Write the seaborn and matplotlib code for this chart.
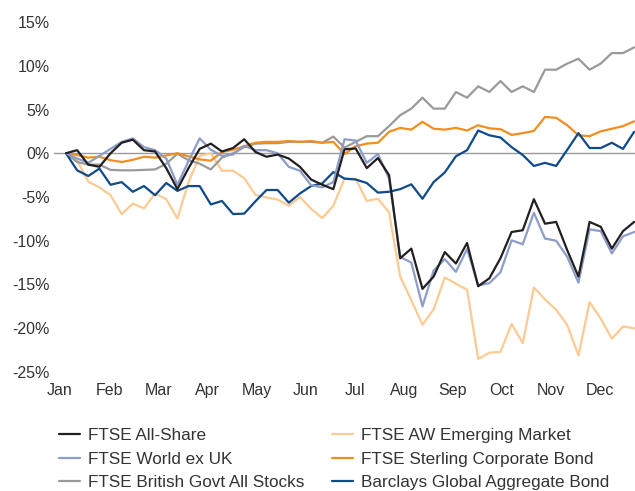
import matplotlib
matplotlib.use('Agg')
import matplotlib.pyplot as plt
import numpy as np
import pandas as pd
import seaborn as sns

# Weekly cumulative returns (%)
all_share = [0, 0.35, -1.3, -1.55, 0, 1.2, 1.55, 0.35, 0.2, -1.7,
             -4.1, -1.7, 0.5, 1.1, 0.2, 0.6, 1.6, 0.15, -0.4, -0.15,
             -0.6, -1.55, -3.0, -3.6, -4.1, 0.45, 0.55, -1.7, -0.55, -2.5,
             -12.0, -10.9, -15.5, -14.1, -11.3, -12.6, -10.25, -15.2, -14.3, -12.0,
             -9.0, -8.8, -5.25, -8.05, -7.85, -11.1, -14.1, -7.85, -8.4, -10.9,
             -8.9, -7.85]
world_ex_uk = [0, -0.6, -1.1, -0.3, 0.5, 1.3, 1.7, 0.7, 0.35, -0.6,
               -3.6, -0.9, 1.7, 0.4, -0.3, -0.15, 0.85, 0.35, 0.35, 0,
               -1.55, -2.0, -3.65, -3.9, -3.3, 1.6, 1.45, -1.1, -0.1, -2.9,
               -11.85, -12.5, -17.5, -13.4, -12.1, -13.55, -10.95, -15.1, -14.85, -13.6,
               -9.95, -10.4, -6.8, -9.75, -10.0, -11.85, -14.8, -8.7, -8.9, -11.45,
               -9.5, -9.0]
govt_all = [0, -1.0, -1.3, -1.3, -1.9, -1.95, -1.95, -1.9, -1.85, -1.2,
            -0.05, -0.8, -1.2, -1.85, -0.5, 0, 0.7, 1.1, 1.15, 1.15,
            1.3, 1.3, 1.3, 1.2, 1.9, 0.65, 1.3, 1.95, 1.95, 3.1,
            4.35, 5.1, 6.35, 5.1, 5.1, 7.0, 6.35, 7.65, 7.0, 8.25,
            7.0, 7.65, 7.0, 9.55, 9.55, 10.25, 10.8, 9.55, 10.25, 11.45,
            11.45, 12.1]
emerging = [0, -0.8, -3.25, -3.9, -4.8, -6.95, -5.75, -6.3, -4.6, -5.25,
            -7.45, -3.3, -0.3, 0.0, -2.0, -2.0, -2.85, -4.75, -5.05, -5.3,
            -6.0, -5.0, -6.35, -7.4, -6.0, -2.9, -2.9, -5.45, -5.2, -6.75,
            -14.1, -16.8, -19.6, -17.85, -14.2, -14.9, -15.6, -23.5, -22.8, -22.7,
            -19.5, -21.7, -15.35, -16.7, -17.9, -19.65, -23.1, -17.0, -18.9, -21.2,
            -19.8, -20.0]
sterling_corp = [0, -0.2, -0.5, -0.4, -0.8, -1.0, -0.75, -0.4, -0.5, -0.25,
                 0, -0.35, -0.7, -0.85, 0.15, 0.4, 0.8, 1.2, 1.3, 1.3,
                 1.4, 1.3, 1.4, 1.2, 1.3, -0.1, 0.8, 1.1, 1.2, 2.45,
                 2.9, 2.7, 3.6, 2.8, 2.7, 2.9, 2.6, 3.2, 2.85, 2.75,
                 2.1, 2.3, 2.55, 4.15, 4.05, 3.2, 2.05, 1.95, 2.5, 2.8,
                 3.1, 3.65]
global_agg = [0, -1.95, -2.6, -1.75, -3.6, -3.3, -4.4, -3.75, -4.8, -3.4,
              -4.3, -3.75, -3.75, -5.85, -5.45, -6.95, -6.9, -5.5, -4.2, -4.2,
              -5.65, -4.6, -3.75, -3.45, -2.15, -2.9, -3.0, -3.4, -4.5, -4.4,
              -4.1, -3.55, -5.2, -3.3, -2.2, -0.35, 0.35, 2.6, 2.05, 1.8,
              0.7, -0.2, -1.45, -1.1, -1.45, 0.4, 2.3, 0.6, 0.6, 1.2,
              0.5, 2.45]

names = ['FTSE All-Share', 'FTSE World ex UK', 'FTSE British Govt All Stocks',
         'FTSE AW Emerging Market', 'FTSE Sterling Corporate Bond',
         'Barclays Global Aggregate Bond']
series = [all_share, world_ex_uk, govt_all, emerging, sterling_corp, global_agg]
colors = ['#231f20', '#8c9dca', '#9a9a9a', '#fdca92', '#f28e1e', '#0f4a8a']
months = ['Jan', 'Feb', 'Mar', 'Apr', 'May', 'Jun',
          'Jul', 'Aug', 'Sep', 'Oct', 'Nov', 'Dec']

weeks = np.arange(len(all_share))
df = pd.concat([pd.DataFrame({'week': weeks, 'value': s, 'index': n})
                for n, s in zip(names, series)])

sns.set_style('white')
plt.rcParams['font.family'] = ['Liberation Sans', 'DejaVu Sans']
plt.rcParams['text.color'] = '#333333'

fig = plt.figure(figsize=(6.35, 4.91), dpi=100)
ax = fig.add_axes([59.3 / 635, 1 - 372 / 491, 575.4 / 635, 350 / 491])

ax.axhline(0, xmin=-0.01, xmax=1, color='#9a9a9a', lw=1, clip_on=False, zorder=1)

# draw black last so it sits on top
draw_order = [3, 2, 4, 5, 1, 0]
for i in draw_order:
    sub = df[df['index'] == names[i]]
    sns.lineplot(data=sub, x='week', y='value', color=colors[i], lw=1.6,
                 ax=ax, label=names[i], zorder=2 + (i == 0))

ax.set_xlim(-0.6, 51.05)
ax.set_ylim(-25, 15)
ax.set_yticks(np.arange(-25, 16, 5))
ax.set_yticklabels([f'{v}%' for v in range(-25, 16, 5)])
ax.set_xticks(-0.54 + 4.408 * np.arange(12))
ax.set_xticklabels(months)
ax.tick_params(axis='both', length=0, labelsize=11.5, colors='#333333')
ax.tick_params(axis='y', pad=6.7)
ax.tick_params(axis='x', pad=8)
ax.set_xlabel('')
ax.set_ylabel('')
sns.despine(ax=ax, left=True, bottom=True)

handles, labels = ax.get_legend_handles_labels()
lookup = dict(zip(labels, handles))
ax.get_legend().remove()
fig.legend([lookup[n] for n in names], names, ncol=2, loc='upper left',
           bbox_to_anchor=(59 / 635, 1 - 428 / 491), frameon=False,
           fontsize=12.3, handlelength=1.25, handletextpad=0.45,
           columnspacing=1.6, labelspacing=0.5, borderpad=0, borderaxespad=0)

fig.savefig('out.png', dpi=100)
